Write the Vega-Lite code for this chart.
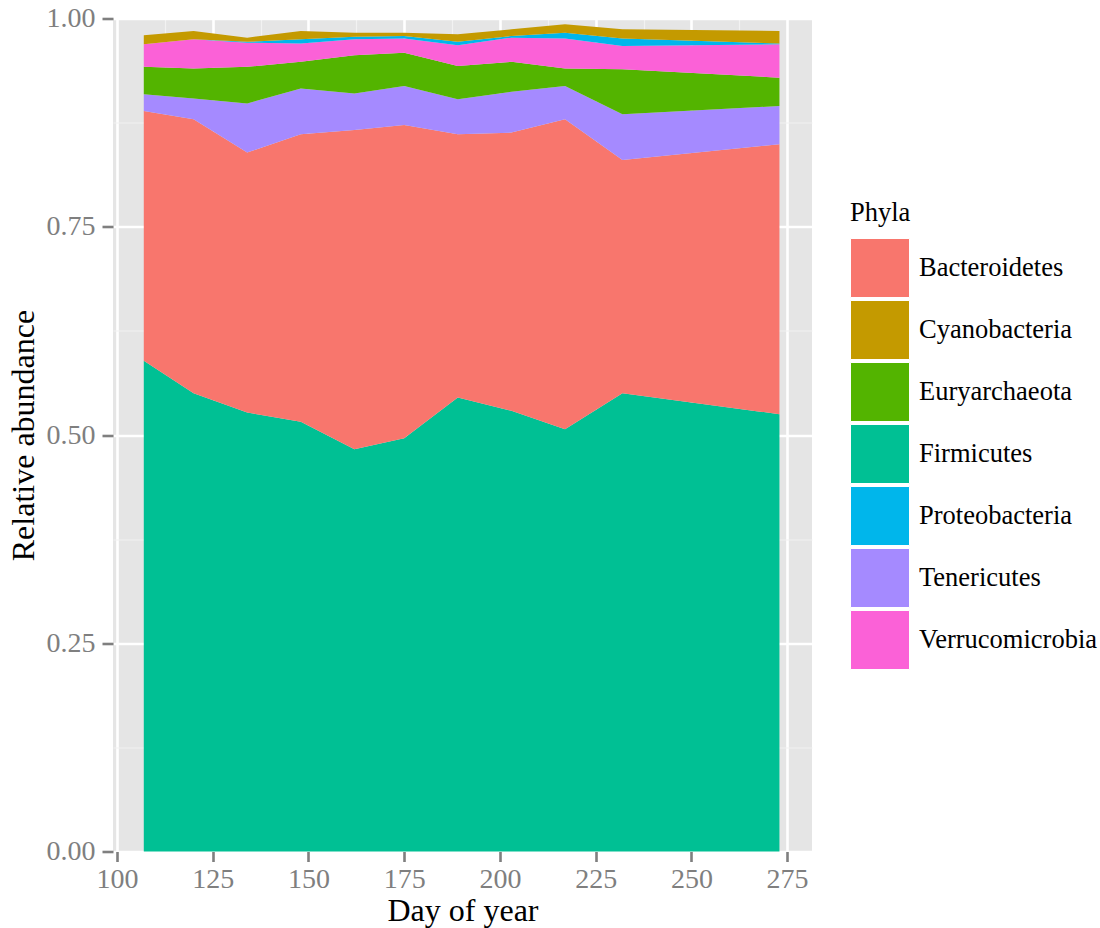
{
  "$schema": "https://vega.github.io/schema/vega-lite/v6.json",
  "width": 699,
  "height": 833,
  "autosize": "none",
  "padding": {"left": 113, "top": 18.5, "right": 288, "bottom": 76.5},
  "background": "white",
  "data": {
    "values": [
      {"Day": 107, "Phyla": "Firmicutes", "Abundance": 0.589},
      {"Day": 120, "Phyla": "Firmicutes", "Abundance": 0.550},
      {"Day": 134, "Phyla": "Firmicutes", "Abundance": 0.527},
      {"Day": 148, "Phyla": "Firmicutes", "Abundance": 0.516},
      {"Day": 162, "Phyla": "Firmicutes", "Abundance": 0.483},
      {"Day": 175, "Phyla": "Firmicutes", "Abundance": 0.496},
      {"Day": 189, "Phyla": "Firmicutes", "Abundance": 0.545},
      {"Day": 203, "Phyla": "Firmicutes", "Abundance": 0.529},
      {"Day": 217, "Phyla": "Firmicutes", "Abundance": 0.507},
      {"Day": 232, "Phyla": "Firmicutes", "Abundance": 0.550},
      {"Day": 273, "Phyla": "Firmicutes", "Abundance": 0.525},
      {"Day": 107, "Phyla": "Bacteroidetes", "Abundance": 0.300},
      {"Day": 120, "Phyla": "Bacteroidetes", "Abundance": 0.329},
      {"Day": 134, "Phyla": "Bacteroidetes", "Abundance": 0.312},
      {"Day": 148, "Phyla": "Bacteroidetes", "Abundance": 0.345},
      {"Day": 162, "Phyla": "Bacteroidetes", "Abundance": 0.383},
      {"Day": 175, "Phyla": "Bacteroidetes", "Abundance": 0.376},
      {"Day": 189, "Phyla": "Bacteroidetes", "Abundance": 0.316},
      {"Day": 203, "Phyla": "Bacteroidetes", "Abundance": 0.334},
      {"Day": 217, "Phyla": "Bacteroidetes", "Abundance": 0.372},
      {"Day": 232, "Phyla": "Bacteroidetes", "Abundance": 0.280},
      {"Day": 273, "Phyla": "Bacteroidetes", "Abundance": 0.324},
      {"Day": 107, "Phyla": "Tenericutes", "Abundance": 0.020},
      {"Day": 120, "Phyla": "Tenericutes", "Abundance": 0.025},
      {"Day": 134, "Phyla": "Tenericutes", "Abundance": 0.059},
      {"Day": 148, "Phyla": "Tenericutes", "Abundance": 0.055},
      {"Day": 162, "Phyla": "Tenericutes", "Abundance": 0.044},
      {"Day": 175, "Phyla": "Tenericutes", "Abundance": 0.047},
      {"Day": 189, "Phyla": "Tenericutes", "Abundance": 0.042},
      {"Day": 203, "Phyla": "Tenericutes", "Abundance": 0.049},
      {"Day": 217, "Phyla": "Tenericutes", "Abundance": 0.040},
      {"Day": 232, "Phyla": "Tenericutes", "Abundance": 0.055},
      {"Day": 273, "Phyla": "Tenericutes", "Abundance": 0.046},
      {"Day": 107, "Phyla": "Euryarchaeota", "Abundance": 0.033},
      {"Day": 120, "Phyla": "Euryarchaeota", "Abundance": 0.036},
      {"Day": 134, "Phyla": "Euryarchaeota", "Abundance": 0.044},
      {"Day": 148, "Phyla": "Euryarchaeota", "Abundance": 0.032},
      {"Day": 162, "Phyla": "Euryarchaeota", "Abundance": 0.046},
      {"Day": 175, "Phyla": "Euryarchaeota", "Abundance": 0.040},
      {"Day": 189, "Phyla": "Euryarchaeota", "Abundance": 0.040},
      {"Day": 203, "Phyla": "Euryarchaeota", "Abundance": 0.036},
      {"Day": 217, "Phyla": "Euryarchaeota", "Abundance": 0.021},
      {"Day": 232, "Phyla": "Euryarchaeota", "Abundance": 0.054},
      {"Day": 273, "Phyla": "Euryarchaeota", "Abundance": 0.034},
      {"Day": 107, "Phyla": "Verrucomicrobia", "Abundance": 0.027},
      {"Day": 120, "Phyla": "Verrucomicrobia", "Abundance": 0.035},
      {"Day": 134, "Phyla": "Verrucomicrobia", "Abundance": 0.029},
      {"Day": 148, "Phyla": "Verrucomicrobia", "Abundance": 0.022},
      {"Day": 162, "Phyla": "Verrucomicrobia", "Abundance": 0.019},
      {"Day": 175, "Phyla": "Verrucomicrobia", "Abundance": 0.017},
      {"Day": 189, "Phyla": "Verrucomicrobia", "Abundance": 0.025},
      {"Day": 203, "Phyla": "Verrucomicrobia", "Abundance": 0.029},
      {"Day": 217, "Phyla": "Verrucomicrobia", "Abundance": 0.036},
      {"Day": 232, "Phyla": "Verrucomicrobia", "Abundance": 0.028},
      {"Day": 273, "Phyla": "Verrucomicrobia", "Abundance": 0.040},
      {"Day": 107, "Phyla": "Proteobacteria", "Abundance": 0.000},
      {"Day": 120, "Phyla": "Proteobacteria", "Abundance": 0.000},
      {"Day": 134, "Phyla": "Proteobacteria", "Abundance": 0.001},
      {"Day": 148, "Phyla": "Proteobacteria", "Abundance": 0.005},
      {"Day": 162, "Phyla": "Proteobacteria", "Abundance": 0.003},
      {"Day": 175, "Phyla": "Proteobacteria", "Abundance": 0.003},
      {"Day": 189, "Phyla": "Proteobacteria", "Abundance": 0.004},
      {"Day": 203, "Phyla": "Proteobacteria", "Abundance": 0.002},
      {"Day": 217, "Phyla": "Proteobacteria", "Abundance": 0.007},
      {"Day": 232, "Phyla": "Proteobacteria", "Abundance": 0.009},
      {"Day": 273, "Phyla": "Proteobacteria", "Abundance": 0.001},
      {"Day": 107, "Phyla": "Cyanobacteria", "Abundance": 0.011},
      {"Day": 120, "Phyla": "Cyanobacteria", "Abundance": 0.010},
      {"Day": 134, "Phyla": "Cyanobacteria", "Abundance": 0.005},
      {"Day": 148, "Phyla": "Cyanobacteria", "Abundance": 0.010},
      {"Day": 162, "Phyla": "Cyanobacteria", "Abundance": 0.005},
      {"Day": 175, "Phyla": "Cyanobacteria", "Abundance": 0.004},
      {"Day": 189, "Phyla": "Cyanobacteria", "Abundance": 0.009},
      {"Day": 203, "Phyla": "Cyanobacteria", "Abundance": 0.008},
      {"Day": 217, "Phyla": "Cyanobacteria", "Abundance": 0.010},
      {"Day": 232, "Phyla": "Cyanobacteria", "Abundance": 0.011},
      {"Day": 273, "Phyla": "Cyanobacteria", "Abundance": 0.015}
    ]
  },
  "transform": [
    {
      "calculate": "indexof(['Firmicutes','Bacteroidetes','Tenericutes','Euryarchaeota','Verrucomicrobia','Proteobacteria','Cyanobacteria'], datum.Phyla)",
      "as": "stackOrder"
    }
  ],
  "mark": {"type": "area", "interpolate": "linear", "opacity": 1},
  "encoding": {
    "x": {
      "field": "Day",
      "type": "quantitative",
      "title": "Day of year",
      "scale": {"domain": [98.96, 281.5], "nice": false, "zero": false},
      "axis": {
        "values": [100, 112.5, 125, 137.5, 150, 162.5, 175, 187.5, 200, 212.5, 225, 237.5, 250, 262.5, 275],
        "labelExpr": "datum.value % 25 === 0 ? datum.label : ''",
        "format": "d",
        "gridColor": {"condition": {"test": "datum.value % 25 !== 0", "value": "#F2F2F2"}, "value": "#FFFFFF"},
        "gridWidth": {"condition": {"test": "datum.value % 25 !== 0", "value": 1.2}, "value": 2.6},
        "tickOpacity": {"condition": {"test": "datum.value % 25 !== 0", "value": 0}, "value": 1},
        "tickSize": 10,
        "labelPadding": 4,
        "titlePadding": 2
      }
    },
    "y": {
      "field": "Abundance",
      "type": "quantitative",
      "title": "Relative abundance",
      "stack": "zero",
      "scale": {"domain": [0, 1], "nice": false},
      "axis": {
        "values": [0, 0.125, 0.25, 0.375, 0.5, 0.625, 0.75, 0.875, 1],
        "labelExpr": "(datum.value * 1000) % 250 === 0 ? datum.label : ''",
        "format": ".2f",
        "gridColor": {"condition": {"test": "(datum.value * 1000) % 250 !== 0", "value": "#F2F2F2"}, "value": "#FFFFFF"},
        "gridWidth": {"condition": {"test": "(datum.value * 1000) % 250 !== 0", "value": 1.2}, "value": 2.6},
        "tickOpacity": {"condition": {"test": "(datum.value * 1000) % 250 !== 0", "value": 0}, "value": 1},
        "tickSize": 11,
        "labelPadding": 7,
        "titlePadding": 6
      }
    },
    "color": {
      "field": "Phyla",
      "type": "nominal",
      "title": "Phyla",
      "scale": {
        "domain": ["Bacteroidetes", "Cyanobacteria", "Euryarchaeota", "Firmicutes", "Proteobacteria", "Tenericutes", "Verrucomicrobia"],
        "range": ["#F8766D", "#C49A00", "#53B400", "#00C094", "#00B6EB", "#A58AFF", "#FB61D7"]
      },
      "legend": {
        "orient": "none",
        "legendX": 737,
        "legendY": 181,
        "padding": 0,
        "symbolType": "square",
        "symbolSize": 3481,
        "symbolStrokeColor": "#FFFFFF",
        "symbolStrokeWidth": 1,
        "symbolOpacity": 1,
        "rowPadding": -7,
        "labelOffset": 9,
        "labelLimit": 0,
        "titlePadding": 12
      }
    },
    "order": {"field": "stackOrder", "type": "quantitative", "sort": "ascending"}
  },
  "config": {
    "view": {"fill": "#E5E5E5", "stroke": null},
    "axis": {
      "domain": false,
      "grid": true,
      "tickColor": "#7F7F7F",
      "tickWidth": 2.6,
      "labelFont": "Liberation Serif",
      "labelFontSize": 28,
      "labelColor": "#7F7F7F",
      "titleFont": "Liberation Serif",
      "titleFontSize": 32,
      "titleFontWeight": "normal",
      "titleColor": "#000000"
    },
    "legend": {
      "titleFont": "Liberation Serif",
      "titleFontSize": 26.5,
      "titleFontWeight": "normal",
      "titleColor": "#000000",
      "labelFont": "Liberation Serif",
      "labelFontSize": 26.5,
      "labelColor": "#000000"
    }
  }
}
